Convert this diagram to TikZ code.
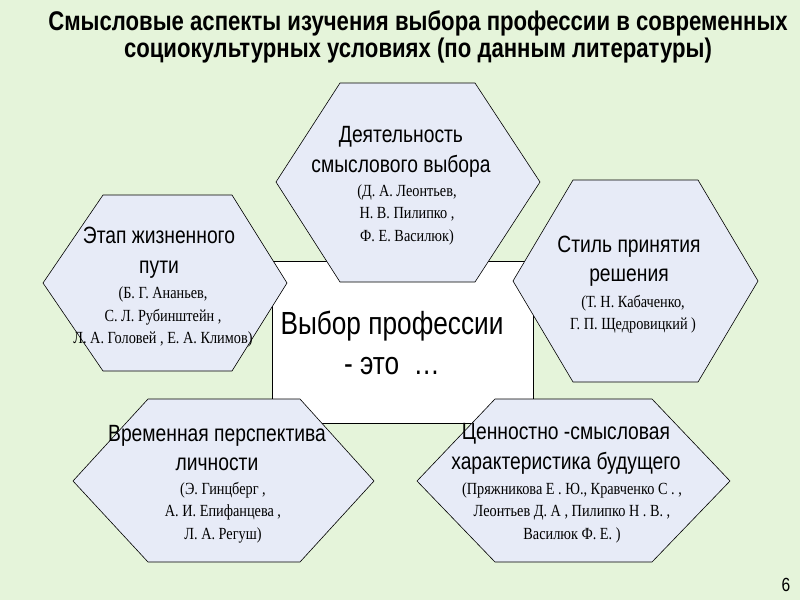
\documentclass[tikz,border=0pt]{standalone}
\usepackage{fontspec}
\setmainfont{Liberation Serif}
\newfontfamily\narrowsans[FakeStretch=0.82]{Liberation Sans}
\newfontfamily\narrowserif[FakeStretch=0.84]{Liberation Serif}
\definecolor{bggreen}{RGB}{229,244,218}
\definecolor{hexfill}{RGB}{231,235,247}
\tikzset{
  hexcell/.style={draw=black, line width=0.6pt, fill=hexfill},
  headtext/.style={font=\narrowsans\fontsize{23.5}{29.5}\selectfont, align=center, inner sep=0pt},
  authortext/.style={font=\narrowserif\fontsize{17}{22.5}\selectfont, align=center, inner sep=0pt}
}
\begin{document}
\begin{tikzpicture}[x=1pt, y=-1pt]
    % Фон слайда
    \fill[bggreen] (0,0) rectangle (800,600);
    \useasboundingbox (0,0) rectangle (800,600);

    % Заголовок
    \node[font=\narrowsans\bfseries\fontsize{27}{26.5}\selectfont, align=center, inner sep=0pt]
        (title) at (418,37) {Смысловые аспекты изучения выбора профессии в современных\\
        социокультурных условиях (по данным литературы)};

    % Центральный прямоугольник
    \draw[line width=0.6pt, fill=white] (272,261) rectangle (533,423);

    % Шестиугольники
    \draw[hexcell] (276,182) -- (340,83) -- (475,83) -- (540,182) -- (475,282) -- (340,282) -- cycle; % верхний
    \draw[hexcell] (43,283) -- (103,195) -- (232,195) -- (287,283) -- (232,371) -- (103,371) -- cycle; % левый
    \draw[hexcell] (513,281) -- (573,180) -- (698,180) -- (758,281) -- (698,382) -- (573,382) -- cycle; % правый
    \draw[hexcell] (73,481) -- (148,399) -- (300,399) -- (374,481) -- (300,562) -- (148,562) -- cycle; % нижний левый
    \draw[hexcell] (417,481) -- (495,399) -- (652,399) -- (730,481) -- (652,562) -- (495,562) -- cycle; % нижний правый

    % Центральный текст
    \node[font=\narrowsans\fontsize{32}{40}\selectfont, align=center, inner sep=0pt]
        (choice) at (392,343) {Выбор профессии\\- это \ \ldots};

    % Подписи шестиугольников
    \node[headtext] (activity) at (401,152) {Деятельность\\смыслового выбора};
    \node[authortext] (activityref) at (407,214.5) {(Д. А. Леонтьев,\\Н. В. Пилипко ,\\Ф. Е. Василюк)};

    \node[headtext] (stage) at (159,252.5) {Этап жизненного\\пути};
    \node[authortext] (stageref) at (163,317) {(Б. Г. Ананьев,\\С. Л. Рубинштейн ,\\Л. А. Головей , Е. А. Климов)};

    \node[headtext] (style) at (629,261) {Стиль принятия\\решения};
    \node[authortext] (styleref) at (633,314) {(Т. Н. Кабаченко,\\Г. П. Щедровицкий )};

    \node[headtext] (time) at (217,448) {Временная перспектива\\личности};
    \node[authortext] (timeref) at (223,512.5) {(Э. Гинцберг ,\\А. И. Епифанцева ,\\Л. А. Регуш)};

    \node[headtext] (value) at (566,449) {Ценностно -смысловая\\характеристика будущего};
    \node[authortext] (valueref) at (572,512.5) {(Пряжникова Е . Ю., Кравченко С . ,\\Леонтьев Д. А , Пилипко Н . В. ,\\Василюк Ф. Е. )};

    % Номер слайда
    \node[font=\narrowsans\fontsize{19}{20}\selectfont, inner sep=0pt] (slideno) at (786,585) {6};
\end{tikzpicture}
\end{document}
